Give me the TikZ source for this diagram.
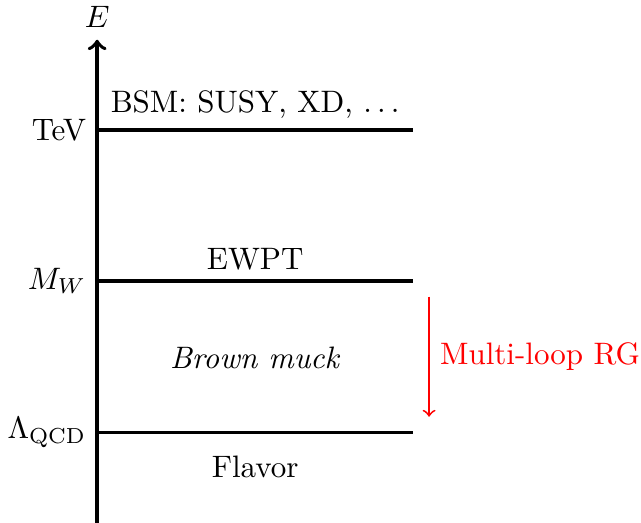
\documentclass[tikz,border=0pt]{standalone}
\usetikzlibrary{positioning,calc}

\tikzset{
  scale line/.style={very thick},
  flow arrow/.style={semithick,red,->},
}

\begin{document}
\begin{tikzpicture}
\useasboundingbox (-1.10,0) rectangle (6.16,5.92);

%axis
\coordinate (axbot) at (0,0);
\coordinate (axtop) at (0,5.47);
\draw [very thick,->] (axbot) -- (axtop) node (elabel) [above] {$E$};

%levels
\coordinate (qcdL) at (0,1.02);
\coordinate (qcdR) at (3.58,1.02);
\coordinate (mwL) at (0,2.74);
\coordinate (mwR) at (3.58,2.74);
\coordinate (tevL) at (0,4.45);
\coordinate (tevR) at (3.58,4.45);
\draw [scale line] (qcdL) -- (qcdR);
\draw [scale line] (mwL) -- (mwR);
\draw [scale line] (tevL) -- (tevR);

% scale labels
\node (qcd) [left] at (qcdL) {$\Lambda_{\mathrm{QCD}}$};
\node (mw) [left] at (mwL) {$M_W$};
\node (tev) [left] at (tevL) {TeV};

% physics
\node (bsm) [above] at ($(tevL)!.5!(tevR)$) {BSM: SUSY, XD, $\ldots$};
\node (ewpt) [above] at ($(mwL)!.5!(mwR)$) {EWPT};
\node (muck) at (1.79,1.87) {\textit{Brown muck}};
\node (flavor) [below=4pt] at ($(qcdL)!.5!(qcdR)$) {Flavor};

% running
\coordinate (rgtop) at (3.76,2.56);
\coordinate (rgbot) at (3.76,1.20);
\draw [flow arrow] (rgtop) -- (rgbot);
\node (rg) [right,red] at ($(rgtop)!.5!(rgbot)$) {Multi-loop RG};

\end{tikzpicture}
\end{document}
